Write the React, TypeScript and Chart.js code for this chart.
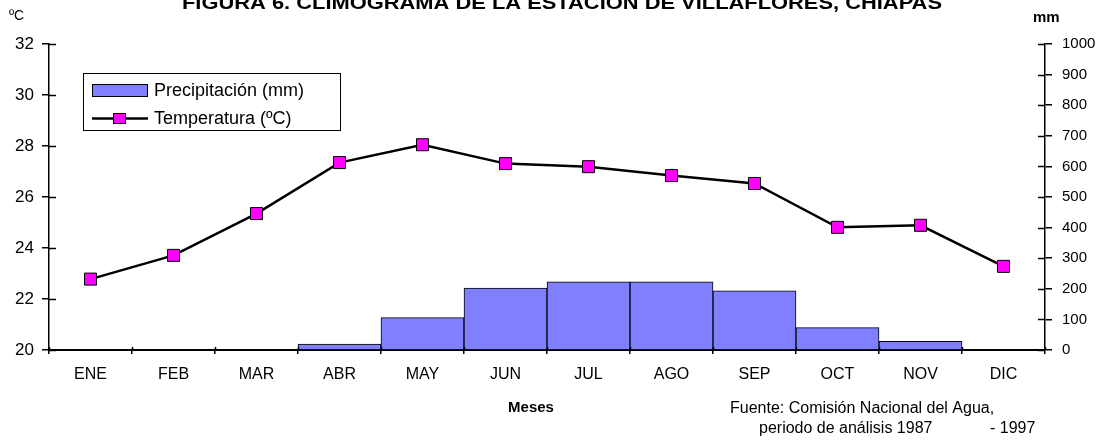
import React, { useEffect, useRef } from "react";
import { Chart, registerables } from "chart.js";

Chart.register(...registerables);

const months = ["ENE", "FEB", "MAR", "ABR", "MAY", "JUN", "JUL", "AGO", "SEP", "OCT", "NOV", "DIC"];
const precipitation = [0, 0, 0, 19, 106, 202, 223, 223, 193, 73, 28, 0];
const temperature = [22.78, 23.71, 25.35, 27.35, 28.05, 27.31, 27.19, 26.84, 26.53, 24.81, 24.89, 23.28];
const tempTicks = { min: 20, max: 32, step: 2 };
const precTicks = { min: 0, max: 1000, step: 100 };

const FONT = "'Liberation Sans', Arial, Helvetica, sans-serif";
const BAR_COLOR = "#8080ff";
const MARKER_COLOR = "#ff00ff";

const overlayPlugin = {
  id: "overlay",
  afterDraw(chart: any) {
    const ctx = chart.ctx;
    const { left, right, bottom } = chart.chartArea;
    ctx.save();
    ctx.strokeStyle = "#000";
    ctx.lineWidth = 1.5;
    // inner tick halves
    const y = chart.scales.y;
    y.ticks.forEach((t: any) => {
      const p = Math.round(y.getPixelForValue(t.value)) + 0.5;
      ctx.beginPath();
      ctx.moveTo(left, p);
      ctx.lineTo(left + 7, p);
      ctx.stroke();
    });
    const y1 = chart.scales.y1;
    y1.ticks.forEach((t: any) => {
      const p = Math.round(y1.getPixelForValue(t.value)) + 0.5;
      ctx.beginPath();
      ctx.moveTo(right - 7, p);
      ctx.lineTo(right, p);
      ctx.stroke();
    });
    const x = chart.scales.x;
    const w = x.getPixelForTick(1) - x.getPixelForTick(0);
    for (let i = 0; i <= months.length; i++) {
      const p = Math.round(x.getPixelForTick(0) - w / 2 + i * w) + 0.5;
      ctx.beginPath();
      ctx.moveTo(p, bottom);
      ctx.lineTo(p, bottom - 3);
      ctx.stroke();
    }

    // title (clipped at top)
    ctx.fillStyle = "#000";
    ctx.textAlign = "center";
    ctx.textBaseline = "alphabetic";
    ctx.font = `bold 19px ${FONT}`;
    const title = "FIGURA 6. CLIMOGRAMA DE LA ESTACIÓN DE VILLAFLORES, CHIAPAS";
    const tw = ctx.measureText(title).width;
    ctx.save();
    ctx.translate(562, 9);
    ctx.scale(760 / tw, 1);
    ctx.fillText(title, 0, 0);
    ctx.restore();

    // unit labels
    ctx.textAlign = "left";
    ctx.font = `14px ${FONT}`;
    ctx.fillText("ºC", 9, 20);
    ctx.font = `bold 15px ${FONT}`;
    ctx.fillText("mm", 1033, 22);

    // x title
    ctx.textAlign = "center";
    ctx.font = `bold 15px ${FONT}`;
    ctx.fillText("Meses", 531, 412);

    // source
    ctx.textAlign = "left";
    ctx.font = `16px ${FONT}`;
    ctx.fillText("Fuente: Comisión Nacional del Agua,", 730, 413);
    ctx.fillText("periodo de análisis 1987", 759, 433);
    ctx.fillText("- 1997", 990, 433);

    // legend
    ctx.lineWidth = 1;
    ctx.strokeStyle = "#000";
    ctx.strokeRect(83.5, 73.5, 257, 57);
    ctx.fillStyle = BAR_COLOR;
    ctx.fillRect(92, 84, 56, 13);
    ctx.strokeRect(92.5, 84.5, 55, 12);
    ctx.lineWidth = 2.5;
    ctx.beginPath();
    ctx.moveTo(92, 118.5);
    ctx.lineTo(148, 118.5);
    ctx.stroke();
    ctx.fillStyle = MARKER_COLOR;
    ctx.fillRect(113, 113, 13, 11);
    ctx.lineWidth = 1;
    ctx.strokeRect(113.5, 113.5, 12, 10);
    ctx.fillStyle = "#000";
    ctx.font = `18px ${FONT}`;
    ctx.textBaseline = "middle";
    ctx.fillText("Precipitación (mm)", 154, 91);
    ctx.fillText("Temperatura (ºC)", 154, 119);
    ctx.restore();
  },
};

export default function App() {
  const ref = useRef<HTMLCanvasElement>(null);
  useEffect(() => {
    document.body.style.margin = "0";
    const chart = new Chart(ref.current as HTMLCanvasElement, {
      type: "bar",
      data: {
        labels: months,
        datasets: [
          {
            type: "line",
            label: "Temperatura (ºC)",
            data: temperature,
            yAxisID: "y",
            borderColor: "#000",
            borderWidth: 2.5,
            pointStyle: "rect",
            pointRadius: 8.5,
            pointBackgroundColor: MARKER_COLOR,
            pointBorderColor: "#000",
            pointBorderWidth: 1,
            tension: 0,
            order: 0,
          } as any,
          {
            type: "bar",
            label: "Precipitación (mm)",
            data: precipitation,
            yAxisID: "y1",
            backgroundColor: BAR_COLOR,
            borderColor: "#000",
            borderWidth: 1,
            barPercentage: 1,
            categoryPercentage: 1,
            order: 1,
          },
        ],
      },
      options: {
        animation: false,
        responsive: false,
        layout: { padding: { top: 44, left: 0, right: 0, bottom: 0 } },
        plugins: { legend: { display: false }, title: { display: false }, tooltip: { enabled: false } },
        scales: {
          x: {
            offset: true,
            grid: { offset: true, drawOnChartArea: false, tickLength: 4, color: "#000", lineWidth: 1.5 },
            border: { display: true, color: "#000", width: 2 },
            ticks: { color: "#000", font: { size: 16, family: FONT }, padding: 11, maxRotation: 0 },
            afterFit: (s: any) => {
              s.height = 92;
            },
          },
          y: {
            position: "left",
            min: tempTicks.min,
            max: tempTicks.max,
            ticks: { stepSize: tempTicks.step, color: "#000", font: { size: 17, family: FONT }, padding: 8 },
            grid: { drawOnChartArea: false, tickLength: 7, color: "#000", lineWidth: 1.5 },
            border: { display: true, color: "#000", width: 1.5 },
            afterFit: (s: any) => {
              s.width = 49;
            },
          },
          y1: {
            position: "right",
            min: precTicks.min,
            max: precTicks.max,
            ticks: {
              stepSize: precTicks.step,
              color: "#000",
              font: { size: 15, family: FONT },
              padding: 10,
              callback: (v: any) => String(v),
            },
            grid: { drawOnChartArea: false, tickLength: 7, color: "#000", lineWidth: 1.5 },
            border: { display: true, color: "#000", width: 1.5 },
            afterFit: (s: any) => {
              s.width = 55;
            },
          },
        },
      },
      plugins: [overlayPlugin],
    });
    return () => chart.destroy();
  }, []);
  return (
    <div style={{ position: "absolute", left: 0, top: 0, width: 1100, height: 442, background: "#fff" }}>
      <canvas ref={ref} width={1100} height={442} />
    </div>
  );
}
